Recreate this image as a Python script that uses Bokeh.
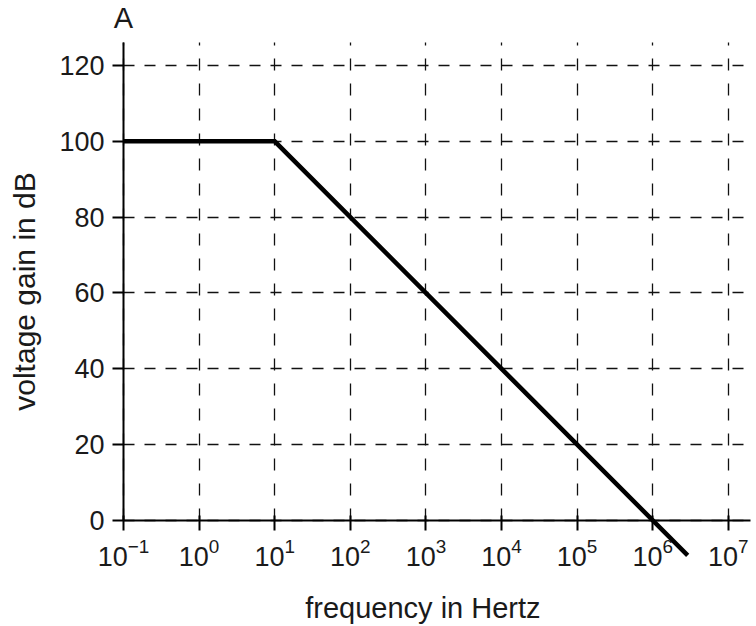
import math
from bokeh.plotting import figure
from bokeh.models import Range1d, FixedTicker, LogTickFormatter, Label
from bokeh.embed import file_html
from bokeh.resources import INLINE

# data
freq_hz = [0.1, 10, 2.9e6]
gain_db = [100, 100, -9.2]
decade_ticks = [1e-1, 1e0, 1e1, 1e2, 1e3, 1e4, 1e5, 1e6, 1e7]
gain_ticks = [0, 20, 40, 60, 80, 100, 120]

x_title = "frequency in Hertz"
y_title = "voltage gain in dB"
corner_title = "A"

FONT = "Liberation Sans"
TXT = "#1a1a1a"

PX_PER_UNIT = 3.7917
X_START, X_END = 10 ** -2.627, 10 ** 7.320
Y_START, Y_END = -(626 - 520) / PX_PER_UNIT, 520 / PX_PER_UNIT
X_AXIS_END = 10 ** 7.29
Y_AXIS_TOP = 126

p = figure(width=752, height=626, x_axis_type="log",
           x_range=Range1d(X_START, X_END), y_range=Range1d(Y_START, Y_END),
           output_backend="svg", toolbar_location=None,
           min_border=0)
p.outline_line_color = None
p.background_fill_color = "white"

p.line(freq_hz, gain_db, line_width=4.5, color="black", line_join="miter")

# x axis drawn at gain 0
xa = p.xaxis[0]
xa.fixed_location = 0
xa.bounds = (0.1, X_AXIS_END)
xa.ticker = FixedTicker(ticks=decade_ticks)
xa.formatter = LogTickFormatter()
xa.axis_line_width = 2
xa.axis_line_color = "black"
xa.major_tick_line_width = 2
xa.major_tick_line_color = "black"
xa.major_tick_out = 10
xa.major_tick_in = 5
xa.minor_tick_line_color = None
xa.major_label_text_font = FONT
xa.major_label_text_font_size = "27px"
xa.major_label_text_color = TXT
xa.major_label_standoff = 7

# y axis drawn at frequency 0.1 Hz
ya = p.yaxis[0]
ya.fixed_location = 0.1
ya.bounds = (0, Y_AXIS_TOP)
ya.ticker = FixedTicker(ticks=gain_ticks)
ya.axis_line_width = 2
ya.axis_line_color = "black"
ya.major_tick_line_width = 2
ya.major_tick_line_color = "black"
ya.major_tick_out = 11
ya.major_tick_in = 0
ya.minor_tick_line_color = None
ya.major_label_text_font = FONT
ya.major_label_text_font_size = "27px"
ya.major_label_text_color = TXT
ya.major_label_standoff = 8

xg, yg = p.xgrid[0], p.ygrid[0]
xg.ticker = FixedTicker(ticks=decade_ticks)
yg.ticker = FixedTicker(ticks=gain_ticks)
for g in (xg, yg):
    g.grid_line_color = "#111111"
    g.grid_line_width = 1.3
xg.grid_line_dash = "12 13"
yg.grid_line_dash = "11 10"
xg.cross_bounds = (0, Y_AXIS_TOP)
yg.cross_bounds = (0.1, X_AXIS_END)

# axis titles
p.add_layout(Label(x=912, y=-23.2, text=x_title, text_align="center",
                   text_baseline="alphabetic", text_font=FONT,
                   text_font_size="29px", text_color=TXT))
p.add_layout(Label(x=0.1, y=60.4, x_offset=-99, text=y_title, angle=math.pi / 2,
                   text_align="center", text_baseline="middle", text_font=FONT,
                   text_font_size="30px", text_color=TXT))
p.add_layout(Label(x=0.1, y=132.5, text=corner_title, text_align="center",
                   text_baseline="alphabetic", text_font=FONT,
                   text_font_size="29px", text_color=TXT))

open("out.html", "w").write(file_html(p, INLINE))
